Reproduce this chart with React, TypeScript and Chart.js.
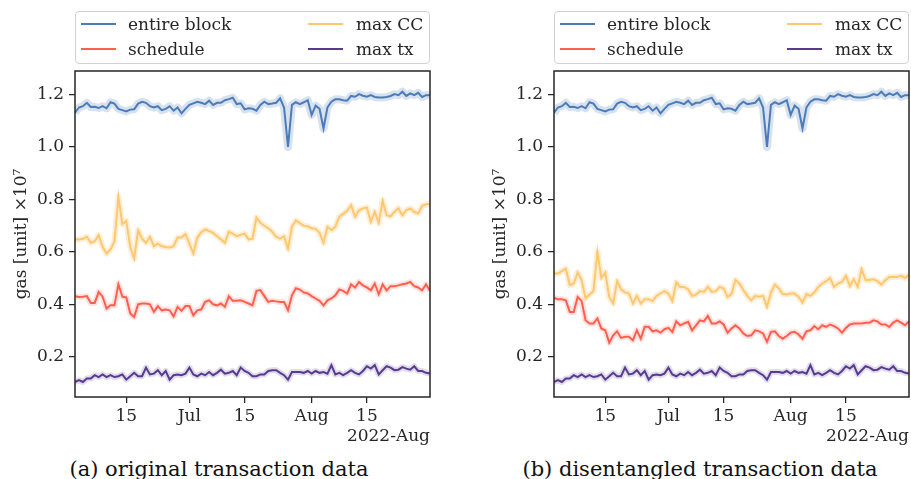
import React, { useEffect, useRef } from "react";
import { Chart, registerables } from "chart.js";
Chart.register(...registerables);

// ---- data ----
const START_DATE = "2022-06-02";
const END_DATE = "2022-08-31";
const TICK_DATES = ["2022-06-15", "2022-07-01", "2022-07-15", "2022-08-01", "2022-08-15"];
const TICK_LABELS = ["15", "Jul", "15", "Aug", "15"];
const Y_TICKS = [0.2, 0.4, 0.6, 0.8, 1.0, 1.2];
const SERIES_NAMES = ["entire block", "schedule", "max CC", "max tx"];
const X_OFFSET_LABEL = "2022-Aug";
const Y_LABEL = "gas [unit] ×10⁷";
const CAPTIONS = ["(a) original transaction data", "(b) disentangled transaction data"];

const ENTIRE_BLOCK = [
  1.13, 1.15, 1.155, 1.168, 1.152, 1.153, 1.148, 1.155, 1.147, 1.17,
  1.165, 1.145, 1.14, 1.135, 1.142, 1.143, 1.165, 1.172, 1.168, 1.155,
  1.15, 1.155, 1.14, 1.145, 1.155, 1.138, 1.15, 1.128, 1.145, 1.16,
  1.166, 1.172, 1.168, 1.163, 1.176, 1.16, 1.168, 1.168, 1.178, 1.182,
  1.187, 1.163, 1.166, 1.143, 1.147, 1.145, 1.138, 1.16, 1.172, 1.163,
  1.165, 1.168, 1.185, 1.15, 1.0, 1.16, 1.17, 1.163, 1.17, 1.178,
  1.122, 1.157, 1.145, 1.07, 1.15, 1.172, 1.181, 1.181, 1.178, 1.176,
  1.194, 1.191, 1.201, 1.195, 1.191, 1.197, 1.19, 1.188, 1.188, 1.19,
  1.194, 1.201, 1.197, 1.21, 1.194, 1.204, 1.197, 1.206, 1.19, 1.197, 1.197,
];

const SCHEDULE_ORIGINAL = [
  0.432, 0.429, 0.43, 0.432, 0.406, 0.406, 0.448, 0.43, 0.385, 0.397,
  0.397, 0.477, 0.43, 0.427, 0.366, 0.353, 0.401, 0.404, 0.404, 0.401,
  0.372, 0.394, 0.378, 0.381, 0.378, 0.355, 0.391, 0.376, 0.394, 0.394,
  0.359, 0.378, 0.381, 0.41, 0.416, 0.401, 0.397, 0.404, 0.391, 0.432,
  0.414, 0.414, 0.416, 0.41, 0.404, 0.397, 0.452, 0.455, 0.432, 0.41,
  0.414, 0.412, 0.41, 0.41, 0.378, 0.435, 0.462, 0.457, 0.446, 0.442,
  0.432, 0.423, 0.414, 0.397, 0.416, 0.423, 0.435, 0.457, 0.452, 0.442,
  0.477, 0.465, 0.486, 0.473, 0.465, 0.454, 0.48, 0.439, 0.477, 0.454,
  0.47, 0.47, 0.473, 0.477, 0.48, 0.486, 0.47, 0.465, 0.454, 0.477, 0.452,
];

const MAX_CC_ORIGINAL = [
  0.648, 0.648, 0.65, 0.658, 0.635, 0.64, 0.664, 0.62, 0.594, 0.61,
  0.64, 0.81, 0.706, 0.718, 0.619, 0.575, 0.683, 0.651, 0.635, 0.658,
  0.622, 0.632, 0.622, 0.619, 0.617, 0.622, 0.655, 0.655, 0.668, 0.632,
  0.594, 0.655, 0.675, 0.686, 0.68, 0.673, 0.66, 0.648, 0.635, 0.677,
  0.67, 0.66, 0.665, 0.67, 0.648, 0.651, 0.731, 0.711, 0.7, 0.69,
  0.677, 0.658, 0.651, 0.66, 0.613, 0.696, 0.72, 0.71, 0.7, 0.698,
  0.69, 0.688, 0.673, 0.635, 0.696, 0.683, 0.696, 0.734, 0.745, 0.757,
  0.778, 0.734, 0.759, 0.766, 0.769, 0.715, 0.753, 0.711, 0.795, 0.74,
  0.736, 0.753, 0.766, 0.74, 0.759, 0.766, 0.753, 0.747, 0.775, 0.782, 0.782,
];

const MAX_TX = [
  0.105, 0.112, 0.105, 0.118, 0.118, 0.131, 0.124, 0.134, 0.124, 0.131,
  0.124, 0.127, 0.134, 0.114, 0.127, 0.14, 0.127, 0.127, 0.16, 0.134,
  0.137, 0.15, 0.131, 0.147, 0.114, 0.131, 0.134, 0.131, 0.137, 0.16,
  0.134, 0.127, 0.137, 0.131, 0.143, 0.131, 0.14, 0.152, 0.137, 0.14,
  0.147, 0.131, 0.16, 0.147, 0.14, 0.127, 0.127, 0.134, 0.134, 0.147,
  0.15, 0.15, 0.14, 0.131, 0.114, 0.143, 0.143, 0.143, 0.14, 0.147,
  0.137, 0.147, 0.14, 0.143, 0.137, 0.169, 0.134, 0.14, 0.131, 0.14,
  0.15, 0.14, 0.134, 0.147, 0.165, 0.156, 0.169, 0.134, 0.15, 0.165,
  0.16, 0.15, 0.152, 0.162, 0.156, 0.152, 0.165, 0.147, 0.147, 0.14, 0.137,
];

const SCHEDULE_DISENTANGLED = [
  0.425, 0.42, 0.42, 0.416, 0.372, 0.372, 0.429, 0.413, 0.34, 0.328,
  0.328, 0.347, 0.309, 0.302, 0.255, 0.283, 0.298, 0.273, 0.277, 0.277,
  0.264, 0.302, 0.27, 0.315, 0.315, 0.298, 0.302, 0.293, 0.306, 0.311,
  0.296, 0.336, 0.321, 0.328, 0.334, 0.302, 0.321, 0.34, 0.336, 0.357,
  0.328, 0.328, 0.336, 0.324, 0.293, 0.309, 0.321, 0.309, 0.29, 0.28,
  0.283, 0.302, 0.298, 0.29, 0.258, 0.296, 0.298, 0.28, 0.27, 0.28,
  0.293, 0.296, 0.286, 0.27, 0.298, 0.302, 0.318, 0.306, 0.321, 0.315,
  0.324, 0.318, 0.309, 0.293, 0.311, 0.324, 0.328, 0.328, 0.328, 0.331,
  0.331, 0.34, 0.336, 0.324, 0.324, 0.315, 0.331, 0.34, 0.331, 0.321, 0.336,
];

const MAX_CC_DISENTANGLED = [
  0.518, 0.518, 0.527, 0.537, 0.474, 0.48, 0.522, 0.493, 0.423, 0.438,
  0.451, 0.6, 0.501, 0.522, 0.429, 0.404, 0.489, 0.458, 0.446, 0.442,
  0.404, 0.433, 0.404, 0.42, 0.42, 0.413, 0.433, 0.442, 0.451, 0.442,
  0.413, 0.485, 0.467, 0.467, 0.458, 0.433, 0.438, 0.451, 0.448, 0.467,
  0.448, 0.451, 0.467, 0.461, 0.429, 0.44, 0.493, 0.48, 0.455, 0.433,
  0.416, 0.433, 0.43, 0.433, 0.391, 0.446, 0.476, 0.461, 0.44, 0.438,
  0.442, 0.442, 0.429, 0.408, 0.44, 0.433, 0.446, 0.467, 0.48, 0.489,
  0.501, 0.467, 0.48, 0.486, 0.509, 0.471, 0.496, 0.467, 0.535, 0.493,
  0.493, 0.496, 0.489, 0.476, 0.493, 0.505, 0.505, 0.505, 0.509, 0.501, 0.514,
];

// ---- styles ----
const LINE_COLORS = ["#4c7cb8", "#ff5f4f", "#ffc870", "#573b8e"];
const BAND_COLORS = [
  "rgba(76,124,184,0.22)",
  "rgba(255,95,79,0.18)",
  "rgba(255,200,112,0.3)",
  "rgba(87,59,142,0.18)",
];
const BAND_WIDTHS = [8, 6, 6, 6];
const TEXT_COLOR = "#262626";
const FONT = "'DejaVu Serif', serif";

const DAY_MS = 86400000;
const dayIndex = (s: string) => Math.round((Date.parse(s) - Date.parse(START_DATE)) / DAY_MS);
const TICK_IDX = TICK_DATES.map(dayIndex);
const X_MAX = dayIndex(END_DATE);

const framePlugin = {
  id: "frame",
  afterDraw(chart: any) {
    const { ctx, chartArea } = chart;
    const { left, top, right, bottom } = chartArea;
    ctx.save();
    ctx.strokeStyle = TEXT_COLOR;
    ctx.lineWidth = 1.5;
    ctx.strokeRect(left, top, right - left, bottom - top);
    ctx.restore();
  },
};

const CANVAS_H = 450;

function Panel({ left, width, rightPad, schedule, maxcc }: any) {
  const ref = useRef<HTMLCanvasElement | null>(null);
  useEffect(() => {
    const series = [ENTIRE_BLOCK, schedule, maxcc, MAX_TX];
    const pts = (arr: number[]) => arr.map((v, i) => ({ x: i, y: v }));
    const lines = series.map((s, k) => ({
      label: SERIES_NAMES[k],
      data: pts(s),
      borderColor: LINE_COLORS[k],
      backgroundColor: LINE_COLORS[k],
      borderWidth: 2,
      pointRadius: 0,
      tension: 0,
      fill: false,
    }));
    const bands = series.map((s, k) => ({
      label: SERIES_NAMES[k] + " band",
      data: pts(s),
      borderColor: BAND_COLORS[k],
      borderWidth: BAND_WIDTHS[k],
      pointRadius: 0,
      tension: 0,
      fill: false,
      borderJoinStyle: "round",
    }));
    const tickFont = { family: FONT, size: 17 };
    const chart = new Chart(ref.current as HTMLCanvasElement, {
      type: "line",
      data: { datasets: [...lines, ...bands] as any },
      options: {
        responsive: false,
        animation: false,
        layout: { padding: { top: 71, right: rightPad, bottom: 0, left: 0 } },
        plugins: { legend: { display: false }, tooltip: { enabled: false } },
        scales: {
          x: {
            type: "linear",
            min: 0,
            max: X_MAX,
            afterBuildTicks: (s: any) => {
              s.ticks = TICK_IDX.map((v) => ({ value: v }));
            },
            afterFit: (s: any) => {
              s.height = CANVAS_H - 397;
            },
            ticks: {
              callback: (v: any) => {
                const i = TICK_IDX.indexOf(Number(v));
                return i >= 0 ? TICK_LABELS[i] : "";
              },
              font: tickFont,
              color: TEXT_COLOR,
              padding: 3,
              maxRotation: 0,
              autoSkip: false,
            },
            grid: { drawOnChartArea: false, drawTicks: true, tickLength: 6, color: TEXT_COLOR, lineWidth: 1.25 },
            border: { display: false },
            title: {
              display: true,
              text: X_OFFSET_LABEL,
              align: "end",
              font: tickFont,
              color: TEXT_COLOR,
              padding: { top: 0, bottom: 3 },
            },
          },
          y: {
            type: "linear",
            min: 0.048,
            max: 1.289,
            afterBuildTicks: (s: any) => {
              s.ticks = Y_TICKS.map((v) => ({ value: v }));
            },
            afterFit: (s: any) => {
              s.width = 75;
            },
            ticks: {
              callback: (v: any) => Number(v).toFixed(1),
              font: tickFont,
              color: TEXT_COLOR,
              padding: 5,
            },
            grid: { drawOnChartArea: false, drawTicks: true, tickLength: 6, color: TEXT_COLOR, lineWidth: 1.25 },
            border: { display: false },
            title: {
              display: true,
              text: Y_LABEL,
              font: tickFont,
              color: TEXT_COLOR,
              padding: { top: 11, bottom: 0 },
            },
          },
        },
      } as any,
      plugins: [framePlugin],
    });
    return () => chart.destroy();
  }, []);
  return (
    <canvas
      ref={ref}
      width={width}
      height={CANVAS_H}
      style={{ position: "absolute", left, top: 0, width, height: CANVAS_H }}
    />
  );
}

function Legend({ left }: { left: number }) {
  return (
    <div
      style={{
        position: "absolute",
        left,
        top: 11,
        width: 355,
        height: 53,
        border: "1px solid #d2d2d2",
        borderRadius: 4,
        boxSizing: "border-box",
        background: "rgba(255,255,255,0.8)",
      }}
    >
      {SERIES_NAMES.map((n, k) => {
        const col = Math.floor(k / 2);
        const row = k % 2;
        const cy = row === 0 ? 12 : 36.5;
        const lx = col === 0 ? 5 : 232;
        const tx = col === 0 ? 52 : 280;
        return (
          <React.Fragment key={k}>
            <div style={{ position: "absolute", left: lx, top: cy - 1, width: 35, height: 2, background: LINE_COLORS[k] }} />
            <div
              style={{
                position: "absolute",
                left: tx,
                top: cy - 11,
                height: 22,
                lineHeight: "22px",
                fontFamily: FONT,
                fontSize: 17,
                color: TEXT_COLOR,
                whiteSpace: "nowrap",
              }}
            >
              {n}
            </div>
          </React.Fragment>
        );
      })}
    </div>
  );
}

function Caption({ center, text }: { center: number; text: string }) {
  return (
    <div
      style={{
        position: "absolute",
        left: center - 250,
        width: 500,
        top: 456,
        height: 26,
        lineHeight: "26px",
        textAlign: "center",
        fontFamily: FONT,
        fontSize: 21,
        color: "#111",
        whiteSpace: "nowrap",
      }}
    >
      {text}
    </div>
  );
}

export default function App() {
  return (
    <div style={{ position: "absolute", left: 0, top: 0, width: 911, height: 479, background: "#fff", overflow: "hidden" }}>
      <Panel left={0} width={445} rightPad={15} schedule={SCHEDULE_ORIGINAL} maxcc={MAX_CC_ORIGINAL} />
      <Panel left={479} width={432} rightPad={2} schedule={SCHEDULE_DISENTANGLED} maxcc={MAX_CC_DISENTANGLED} />
      <Legend left={75} />
      <Legend left={554} />
      <Caption center={219} text={CAPTIONS[0]} />
      <Caption center={700} text={CAPTIONS[1]} />
    </div>
  );
}
